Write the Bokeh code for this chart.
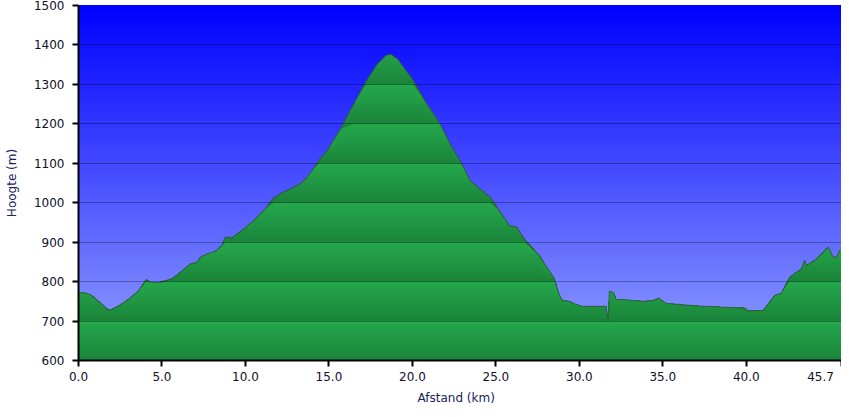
import numpy as np
from bokeh.plotting import figure
from bokeh.models import Range1d, FixedTicker, CustomJSTickFormatter
from bokeh.embed import file_html
from bokeh.resources import INLINE

km = [0.0, 0.4, 0.75, 1.2, 1.8, 2.0, 2.4, 3.0, 3.6, 4.05, 4.3, 4.8, 5.6, 6.0, 6.7, 7.1,
      7.3, 7.8, 8.2, 8.6, 8.8, 9.2, 9.8, 10.6, 11.2, 11.7, 12.1, 12.7, 13.3, 13.7, 14.0,
      14.4, 14.9, 15.7, 16.5, 17.2, 17.9, 18.4, 18.7, 19.1, 19.7, 20.05, 20.85, 21.65,
      22.25, 22.95, 23.45, 24.05, 24.65, 25.2, 25.8, 26.25, 26.7, 27.6, 28.5, 28.8, 29.0,
      29.4, 29.7, 30.2, 31.6, 31.72, 31.8, 32.05, 32.2, 32.8, 33.8, 34.4, 34.75, 35.2,
      36.8, 38.8, 39.9, 40.1, 41.0, 41.4, 41.7, 42.1, 42.6, 43.0, 43.3, 43.5, 43.6, 44.1,
      44.5, 44.9, 45.2, 45.4, 45.6, 45.7]
elev = [773, 771, 766, 750, 728, 730, 739, 755, 777, 805, 799, 798, 807, 820, 845, 849,
        862, 872, 877, 892, 913, 911, 930, 959, 985, 1012, 1023, 1035, 1048, 1065, 1082,
        1107, 1132, 1187, 1251, 1306, 1352, 1373, 1377, 1365, 1331, 1310, 1251, 1200,
        1149, 1099, 1056, 1035, 1014, 980, 942, 938, 908, 866, 808, 765, 752,
        750, 744, 737, 737, 701, 776, 771, 755, 754, 750, 752, 758, 745,
        739, 735, 733, 726, 727, 748, 765, 771, 811, 824, 832, 854, 841, 854,
        870, 887, 862, 862, 879, 880]

x_ticks = [0.0, 5.0, 10.0, 15.0, 20.0, 25.0, 30.0, 35.0, 40.0, 45.7]
y_ticks = [600, 700, 800, 900, 1000, 1100, 1200, 1300, 1400, 1500]
x_title = "Afstand   (km)"
y_title = "Hoogte (m)"

X0, X1 = 0.0, 45.7
Y0, Y1 = 600, 1500

p = figure(width=841, height=407, output_backend="svg", toolbar_location=None,
           x_range=Range1d(X0, X1), y_range=Range1d(Y0, Y1),
           min_border_left=78, min_border_right=0, min_border_top=5, min_border_bottom=47)
p.outline_line_color = None
p.background_fill_color = "white"
p.border_fill_color = "white"

def mix(c1, c2, t):
    r = int(round(c1[0] * (1 - t) + c2[0] * t))
    g = int(round(c1[1] * (1 - t) + c2[1] * t))
    b = int(round(c1[2] * (1 - t) + c2[2] * t))
    return "#%02x%02x%02x" % (r, g, b)

# sky gradient (decoration)
sky_top = (0, 0, 255)
sky_bot = (148, 162, 255)
n_bg = 90
bg_b = [Y0 + k * (Y1 - Y0) / n_bg for k in range(n_bg)]
bg_c = [mix(sky_top, sky_bot, (Y1 - (b + (Y1 - Y0) / n_bg / 2)) / (Y1 - Y0)) for b in bg_b]
p.quad(left=X0, right=X1, bottom=bg_b, top=Y1, fill_color=bg_c, line_color=None)

# banded green terrain
e = np.array(elev, dtype=float)
g_light = (36, 168, 76)
g_dark = (27, 132, 58)
sub = 10
tops = []
cols = []
for band_top in range(Y1, Y0, -100):
    for j in range(sub):
        t_k = band_top - j * 100 / sub
        s = (j + 0.5) / sub
        tops.append(t_k)
        cols.append(mix(g_light, g_dark, s))
for t_k, c in zip(tops, cols):
    if t_k - 100 / sub >= e.max():
        continue
    p.varea(x=km, y1=Y0, y2=np.minimum(e, t_k), fill_color=c)

p.line(km, elev, line_color="#3a3a3a", line_alpha=0.5, line_width=1.2)

# axes
p.xaxis.ticker = FixedTicker(ticks=x_ticks)
p.yaxis.ticker = FixedTicker(ticks=y_ticks)
p.ygrid.ticker = FixedTicker(ticks=y_ticks)
p.xaxis.formatter = CustomJSTickFormatter(
    code="return tick > 45 ? tick.toFixed(1) + '\\u00a0'.repeat(2) : tick.toFixed(1);")
p.xgrid.grid_line_color = None
p.ygrid.grid_line_color = "black"
p.ygrid.grid_line_alpha = 0.3
p.ygrid.grid_line_width = 1
p.ygrid.level = "overlay"

for ax in (p.xaxis[0], p.yaxis[0]):
    ax.axis_line_color = "black"
    ax.axis_line_width = 2
    ax.major_tick_line_color = "black"
    ax.major_tick_line_width = 2
    ax.major_tick_out = 6
    ax.major_tick_in = 0
    ax.minor_tick_line_color = None
    ax.major_label_text_font = "DejaVu Sans"
    ax.major_label_text_font_size = "12px"
    ax.major_label_text_color = "#10102a"
    ax.axis_label_text_font = "DejaVu Sans"
    ax.axis_label_text_font_size = "12px"
    ax.axis_label_text_font_style = "normal"
    ax.axis_label_text_color = "#1a2060"

p.xaxis.axis_label = x_title
p.yaxis.axis_label = y_title
p.xaxis.major_label_standoff = 3
p.xaxis.axis_label_standoff = 4
p.yaxis.major_label_standoff = 8
p.yaxis.axis_label_standoff = 12

open("out.html", "w").write(file_html(p, INLINE))
